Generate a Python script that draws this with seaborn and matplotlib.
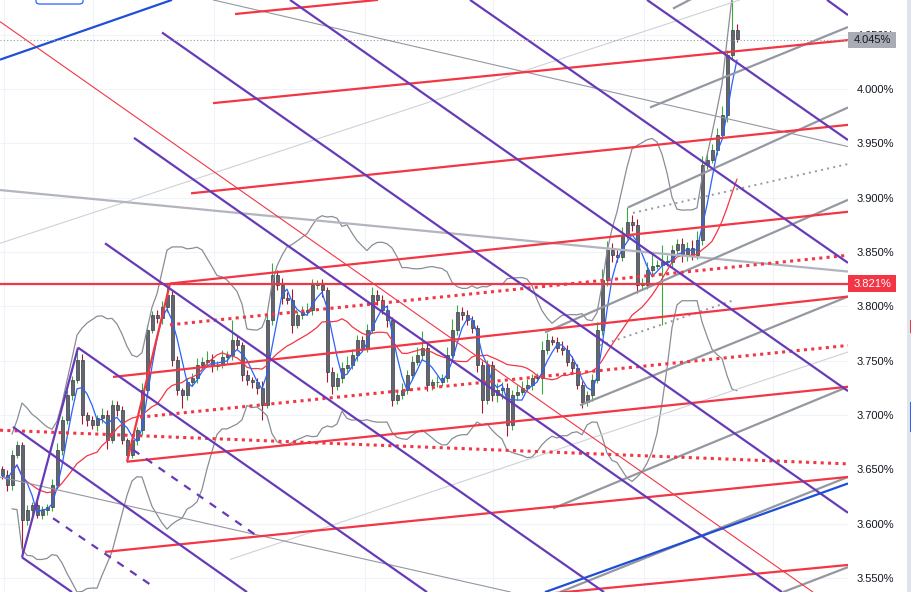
import numpy as np
import pandas as pd
import seaborn as sns
import matplotlib.pyplot as plt
import matplotlib.transforms as mtransforms
from matplotlib.patches import Rectangle, FancyBboxPatch

# --- candle data (yield, %) ---
first_open = 3.650
closes = [3.645, 3.636, 3.663, 3.672, 3.603, 3.613, 3.617, 3.608, 3.613, 3.615,
          3.636, 3.668, 3.695, 3.718, 3.732, 3.751, 3.700, 3.695, 3.691, 3.697,
          3.700, 3.677, 3.709, 3.705, 3.677, 3.663, 3.677, 3.686, 3.723, 3.778,
          3.792, 3.789, 3.799, 3.810, 3.751, 3.723, 3.718, 3.730, 3.734, 3.746,
          3.749, 3.751, 3.745, 3.746, 3.753, 3.755, 3.769, 3.764, 3.737, 3.732,
          3.730, 3.725, 3.709, 3.787, 3.829, 3.820, 3.808, 3.806, 3.783, 3.792,
          3.795, 3.797, 3.820, 3.820, 3.815, 3.740, 3.727, 3.734, 3.743, 3.746,
          3.755, 3.769, 3.762, 3.778, 3.810, 3.806, 3.797, 3.787, 3.714, 3.718,
          3.723, 3.737, 3.749, 3.755, 3.762, 3.728, 3.730, 3.730, 3.734, 3.755,
          3.778, 3.795, 3.792, 3.787, 3.780, 3.746, 3.714, 3.746, 3.718, 3.723,
          3.725, 3.691, 3.718, 3.721, 3.725, 3.728, 3.734, 3.734, 3.760, 3.769,
          3.767, 3.762, 3.760, 3.749, 3.743, 3.728, 3.712, 3.718, 3.732, 3.778,
          3.824, 3.852, 3.847, 3.845, 3.866, 3.878, 3.875, 3.820, 3.820, 3.833,
          3.837, 3.838, 3.841, 3.841, 3.852, 3.857, 3.847, 3.854, 3.847, 3.861,
          3.930, 3.935, 3.944, 3.958, 3.976, 4.031, 4.054, 4.046]
# wick lengths in 0.001 %
wick_up = [3, 4, 5, 4, 3, 4, 3, 4, 3, 3,
           5, 6, 4, 5, 4, 10, 5, 3, 4, 3,
           6, 5, 5, 4, 3, 2, 4, 3, 6, 5,
           4, 5, 6, 11, 4, 3, 2, 4, 5, 6,
           4, 8, 5, 4, 7, 4, 18, 5, 3, 4,
           3, 4, 6, 5, 11, 4, 6, 5, 10, 4,
           5, 6, 5, 4, 5, 3, 4, 5, 6, 8,
           6, 5, 4, 6, 8, 5, 4, 4, 3, 5,
           6, 4, 5, 8, 15, 4, 3, 6, 4, 8,
           10, 6, 4, 5, 4, 3, 4, 5, 4, 6,
           5, 4, 5, 7, 6, 5, 4, 5, 8, 6,
           4, 5, 6, 4, 5, 4, 3, 4, 6, 8,
           10, 8, 6, 5, 7, 13, 6, 5, 6, 8,
           12, 5, 15, 6, 4, 5, 6, 5, 7, 8,
           8, 6, 5, 6, 8, 5, 28, 6]
wick_dn = [4, 6, 5, 3, 32, 4, 5, 3, 4, 5,
           3, 4, 5, 3, 4, 3, 8, 5, 4, 6,
           4, 8, 3, 6, 4, 6, 3, 5, 4, 5,
           3, 4, 5, 4, 6, 5, 12, 4, 3, 5,
           4, 3, 5, 4, 3, 5, 4, 3, 6, 4,
           5, 6, 14, 3, 4, 5, 6, 4, 8, 3,
           4, 3, 5, 4, 6, 10, 8, 4, 5, 3,
           4, 5, 3, 4, 3, 5, 4, 6, 6, 4,
           3, 4, 5, 3, 4, 6, 5, 4, 3, 4,
           3, 4, 5, 4, 5, 6, 12, 4, 5, 6,
           8, 10, 5, 4, 3, 4, 5, 3, 15, 4,
           3, 4, 5, 4, 5, 4, 6, 4, 5, 3,
           4, 5, 6, 4, 3, 4, 6, 8, 5, 4,
           6, 3, 55, 4, 5, 4, 6, 5, 4, 3,
           5, 4, 3, 5, 4, 6, 4, 3]

y_ticks = [3.55, 3.60, 3.65, 3.70, 3.75, 3.80, 3.85, 3.90, 3.95, 4.00, 4.05]
tick_labels = ["3.550%", "3.600%", "3.650%", "3.700%", "3.750%", "3.800%",
               "3.850%", "3.900%", "3.950%", "4.000%", "4.050%"]
x_grid = [0.4, 18.2, 42.4, 72.6, 98.2, 128.4, 154.2]
last_price = 4.045
level_price = 3.821

# --- drawings: (x0, y0, x1, y1) in bar index / % ---
red_lines = [(-0.4, 3.821, 169.2, 3.821), (46.6, 4.069, 75.2, 4.082),
             (42.2, 3.987, 169.2, 4.045), (37.8, 3.904, 169.2, 3.967),
             (33.6, 3.821, 169.2, 3.887), (22.2, 3.735, 169.2, 3.809),
             (25.0, 3.657, 169.2, 3.726), (20.6, 3.574, 169.2, 3.643),
             (108.0, 3.535, 169.2, 3.562), (25.0, 3.657, 33.6, 3.821)]
red_thin = [(-0.4, 4.062, 162.2, 3.537)]
red_dotted = [(-0.4, 3.686, 169.2, 3.655), (33.6, 3.783, 169.2, 3.847),
              (27.6, 3.698, 169.2, 3.764)]
purple_lines = [(4.0, 3.569, 15.2, 3.762), (4.0, 3.569, 14.0, 3.537),
                (15.2, 3.762, 85.0, 3.537), (2.2, 3.689, 49.0, 3.537),
                (20.6, 3.858, 120.4, 3.537), (26.4, 3.955, 156.0, 3.537),
                (32.0, 4.052, 169.2, 3.610), (57.6, 4.082, 169.2, 3.722),
                (93.6, 4.082, 169.2, 3.840), (129.0, 4.082, 169.2, 3.953),
                (165.0, 4.082, 169.2, 4.068)]
purple_dashed = [(26.2, 3.668, 50.6, 3.590), (10.2, 3.605, 30.6, 3.541)]
gray_lines = [(129.6, 3.983, 169.2, 4.057), (134.2, 4.074, 145.0, 4.100),
              (125.2, 3.891, 169.2, 3.983), (108.6, 3.776, 169.2, 3.898),
              (115.6, 3.709, 169.2, 3.809), (110.2, 3.614, 169.2, 3.726),
              (111.6, 3.537, 169.2, 3.643), (156.2, 3.537, 169.2, 3.560)]
gray_light = [(-0.4, 3.907, 169.2, 3.832)]
gray_thin = [(42.2, 4.082, 169.2, 3.947), (-0.4, 3.643, 101.8, 3.537)]
gray_faint = [(-0.4, 3.858, 147.6, 4.082), (45.6, 3.567, 169.2, 3.758)]
gray_dotted = [(126.2, 3.886, 169.2, 3.931), (119.6, 3.764, 146.6, 3.806)]
blue_lines = [(-0.4, 4.027, 34.0, 4.082), (108.6, 3.537, 169.2, 3.637)]

# --- frame ---
df = pd.DataFrame({"i": np.arange(len(closes)), "close": closes})
df["open"] = [first_open] + closes[:-1]
df["high"] = df[["open", "close"]].max(axis=1) + np.array(wick_up) * 0.001
df["low"] = df[["open", "close"]].min(axis=1) - np.array(wick_dn) * 0.001
df["fast"] = df["close"].rolling(4, min_periods=1).mean()
df["mid"] = df["close"].rolling(16, min_periods=3).mean()
sd = df["close"].rolling(16, min_periods=3).std()
df["upper"] = df["mid"] + 2.5 * sd
df["lower"] = df["mid"] - 2.5 * sd

sns.set_theme(style="white")
plt.rcParams['font.family'] = ['Liberation Sans', 'DejaVu Sans']

fig = plt.figure(figsize=(9.12, 5.92), dpi=100)
ax = fig.add_axes([0, 0, 848 / 912, 1])
ax.set_xlim(-0.4, 169.2)
ax.set_ylim(3.5371, 4.0819)

for t in y_ticks:
    ax.axhline(t, color="#f0f3fa", lw=0.8, zorder=0)
for g in x_grid:
    ax.axvline(g, color="#f0f3fa", lw=0.8, zorder=0)

# candles
up = df["close"] >= df["open"]
wick_cols = np.where(up, "#3da83f", "#a8182c")
ax.vlines(df["i"], df["low"], df["high"], colors=wick_cols, lw=0.8, zorder=2)
body_h = (df["close"] - df["open"]).abs().clip(lower=0.0008)
ax.bar(df["i"], body_h, bottom=df[["open", "close"]].min(axis=1), width=0.6,
       color="#63666f", edgecolor="#3a3d46", lw=0.5, zorder=2.2)

# indicators
sns.lineplot(data=df, x="i", y="upper", color="#8a8d96", lw=0.9, ax=ax, zorder=3)
sns.lineplot(data=df, x="i", y="lower", color="#8a8d96", lw=0.9, ax=ax, zorder=3)
sns.lineplot(data=df, x="i", y="mid", color="#f23645", lw=0.9, ax=ax, zorder=3)
sns.lineplot(data=df, x="i", y="fast", color="#2962ff", lw=0.9, ax=ax, zorder=3)


def draw(lines, **kw):
    for x0, y0, x1, y1 in lines:
        ax.plot([x0, x1], [y0, y1], solid_capstyle="butt", zorder=4, **kw)


draw(gray_faint, color="#cfd1d8", lw=0.8)
draw(gray_thin, color="#9598a1", lw=0.8)
draw(gray_light, color="#b2b5be", lw=1.6)
draw(gray_lines, color="#9598a1", lw=1.6)
draw(gray_dotted, color="#9598a1", lw=1.4, ls=(0, (1, 2.2)))
draw(red_thin, color="#f23645", lw=0.8)
draw(red_lines, color="#f23645", lw=1.6)
draw(red_dotted, color="#f23645", lw=2.2, ls=(0, (1, 1.4)))
draw(purple_lines, color="#673ab7", lw=1.6)
draw(purple_dashed, color="#673ab7", lw=1.6, ls=(0, (3.5, 3.5)))
draw(blue_lines, color="#1e4fd6", lw=1.6)
ax.axhline(last_price, color="#9598a1", lw=0.8, ls=(0, (1, 2)), zorder=4)

ax.add_patch(FancyBboxPatch((6.8, 4.0782), 9.4, 0.02, boxstyle="round,pad=0,rounding_size=0.8",
                            fc="white", ec="#2962ff", lw=0.9, zorder=5,
                            mutation_aspect=0.003))

# axis
ax.yaxis.tick_right()
ax.set_yticks(y_ticks, tick_labels)
ax.set_xticks([])
ax.tick_params(axis="y", length=0, pad=6.5, labelsize=8, labelcolor="#131722")
ax.set_xlabel("")
ax.set_ylabel("")
for s in ax.spines.values():
    s.set_visible(False)

trans = mtransforms.blended_transform_factory(ax.transAxes, ax.transData)
for price, fc, tc in [(last_price, "#a9acb4", "#131722"), (level_price, "#f23645", "white")]:
    ax.add_patch(Rectangle((1.0, price - 0.0074), 48 / 848, 0.0148, transform=trans,
                           fc=fc, ec="none", clip_on=False, zorder=10))
    ax.text(1.0 + 24 / 848, price, f"{price:.3f}%", transform=trans, ha="center",
            va="center", fontsize=8, color=tc, clip_on=False, zorder=11)

fig.add_artist(Rectangle((907 / 912, 0), 5 / 912, 1, transform=fig.transFigure,
                         fc="#e0e3eb", ec="none"))
fig.add_artist(Rectangle((910 / 912, 259 / 592), 2 / 912, 13 / 592,
                         transform=fig.transFigure, fc="#f23645", ec="none"))
fig.add_artist(Rectangle((910 / 912, 160 / 592), 2 / 912, 30 / 592,
                         transform=fig.transFigure, fc="#2962ff", ec="none"))

fig.savefig("out.png", dpi=100)
